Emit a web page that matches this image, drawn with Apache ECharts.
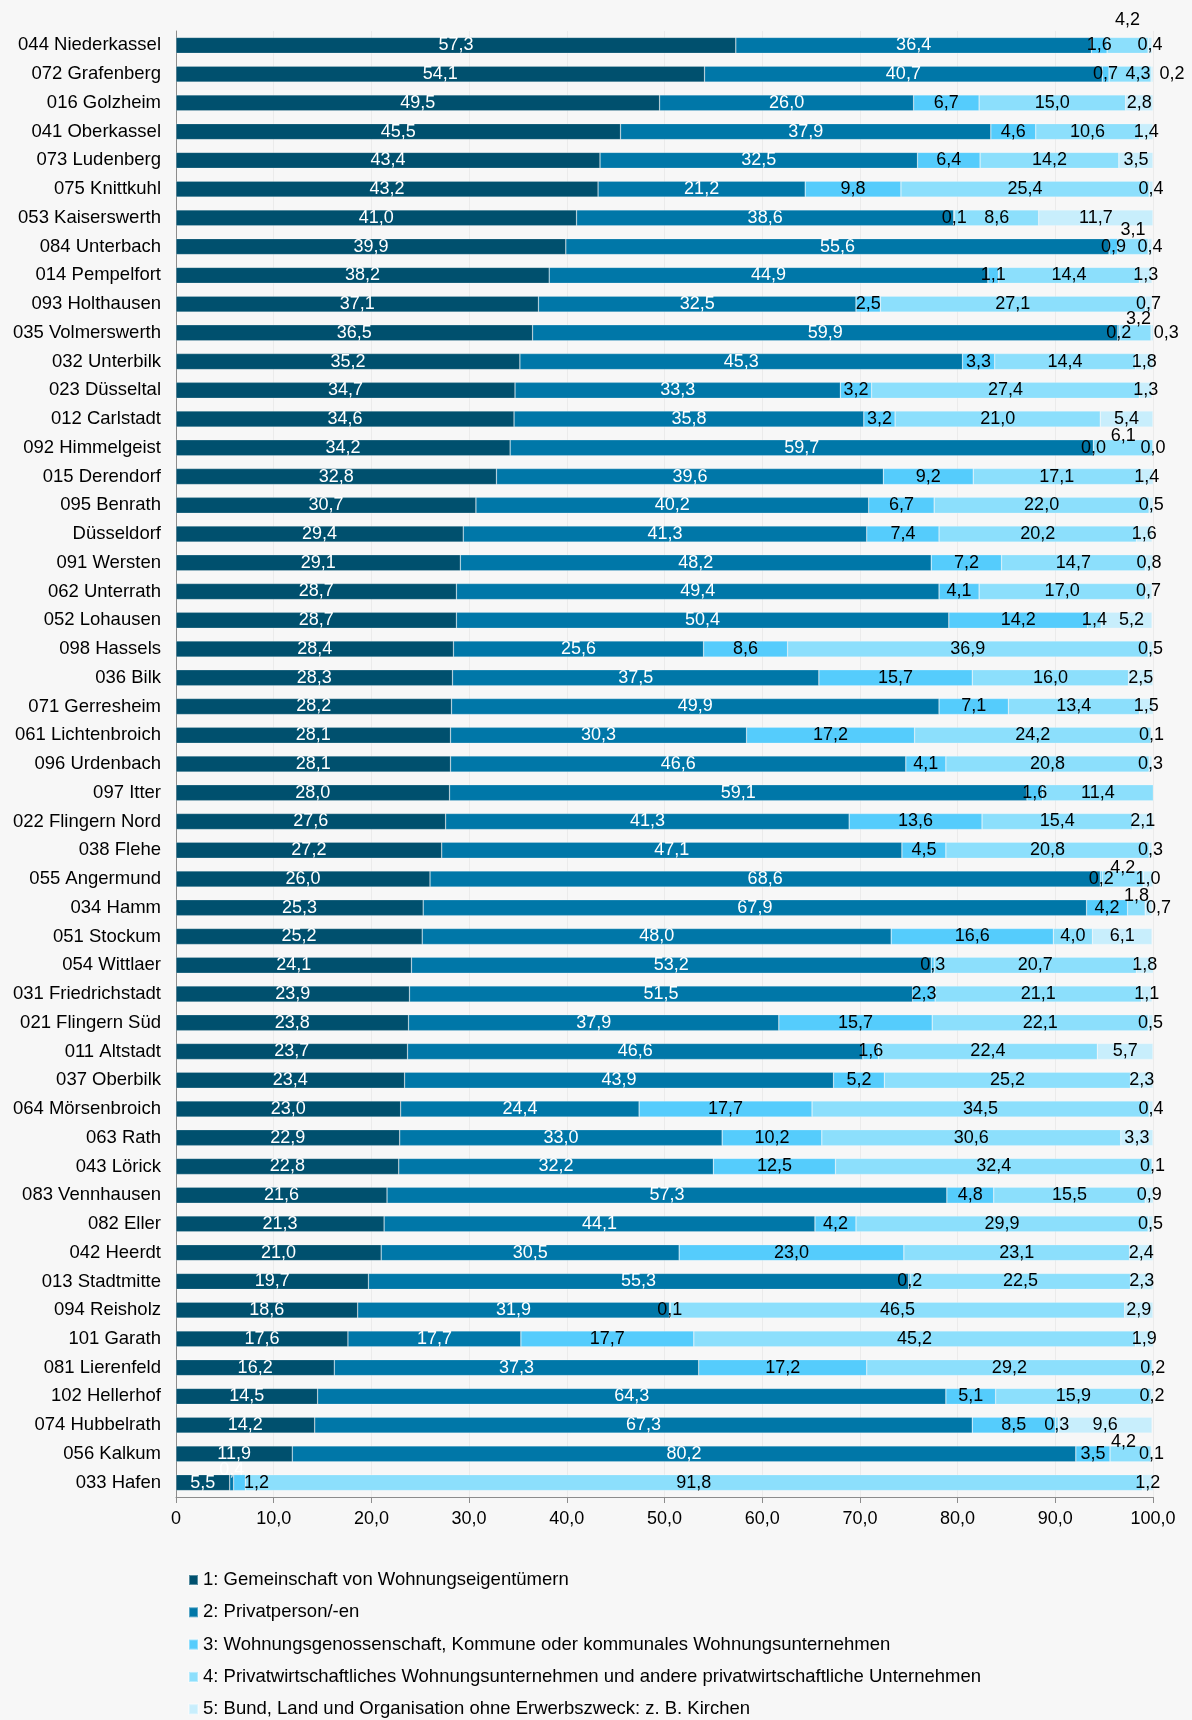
<!DOCTYPE html>
<html>
<head>
<meta charset="utf-8">
<script src="https://cdn.jsdelivr.net/npm/echarts@6/dist/echarts.min.js"></script>
<style>
html,body{margin:0;padding:0;background:#f7f7f7;}
#chart{width:1192px;height:1720px;}
</style>
</head>
<body>
<div id="chart"></div>
<script>
var categories = ['044 Niederkassel','072 Grafenberg','016 Golzheim','041 Oberkassel','073 Ludenberg','075 Knittkuhl','053 Kaiserswerth','084 Unterbach','014 Pempelfort','093 Holthausen','035 Volmerswerth','032 Unterbilk','023 Düsseltal','012 Carlstadt','092 Himmelgeist','015 Derendorf','095 Benrath','Düsseldorf','091 Wersten','062 Unterrath','052 Lohausen','098 Hassels','036 Bilk','071 Gerresheim','061 Lichtenbroich','096 Urdenbach','097 Itter','022 Flingern Nord','038 Flehe','055 Angermund','034 Hamm','051 Stockum','054 Wittlaer','031 Friedrichstadt','021 Flingern Süd','011 Altstadt','037 Oberbilk','064 Mörsenbroich','063 Rath','043 Lörick','083 Vennhausen','082 Eller','042 Heerdt','013 Stadtmitte','094 Reisholz','101 Garath','081 Lierenfeld','102 Hellerhof','074 Hubbelrath','056 Kalkum','033 Hafen'];

var seriesNames = ['1: Gemeinschaft von Wohnungseigentümern','2: Privatperson/-en','3: Wohnungsgenossenschaft, Kommune oder kommunales Wohnungsunternehmen','4: Privatwirtschaftliches Wohnungsunternehmen und andere privatwirtschaftliche Unternehmen','5: Bund, Land und Organisation ohne Erwerbszweck: z. B. Kirchen'];

var s1 = [57.3,54.1,49.5,45.5,43.4,43.2,41.0,39.9,38.2,37.1,36.5,35.2,34.7,34.6,34.2,32.8,30.7,29.4,29.1,28.7,28.7,28.4,28.3,28.2,28.1,28.1,28.0,27.6,27.2,26.0,25.3,25.2,24.1,23.9,23.8,23.7,23.4,23.0,22.9,22.8,21.6,21.3,21.0,19.7,18.6,17.6,16.2,14.5,14.2,11.9,5.5];
var s2 = [36.4,40.7,26.0,37.9,32.5,21.2,38.6,55.6,44.9,32.5,59.9,45.3,33.3,35.8,59.7,39.6,40.2,41.3,48.2,49.4,50.4,25.6,37.5,49.9,30.3,46.6,59.1,41.3,47.1,68.6,67.9,48.0,53.2,51.5,37.9,46.6,43.9,24.4,33.0,32.2,57.3,44.1,30.5,55.3,31.9,17.7,37.3,64.3,67.3,80.2,0.4];
var s3 = [1.6,0.7,6.7,4.6,6.4,9.8,0.1,0.9,1.1,2.5,0.2,3.3,3.2,3.2,0.0,9.2,6.7,7.4,7.2,4.1,14.2,8.6,15.7,7.1,17.2,4.1,1.6,13.6,4.5,0.2,4.2,16.6,0.3,2.3,15.7,1.6,5.2,17.7,10.2,12.5,4.8,4.2,23.0,0.2,0.1,17.7,17.2,5.1,8.5,3.5,1.2];
var s4 = [4.2,4.3,15.0,10.6,14.2,25.4,8.6,3.1,14.4,27.1,3.2,14.4,27.4,21.0,6.1,17.1,22.0,20.2,14.7,17.0,1.4,36.9,16.0,13.4,24.2,20.8,11.4,15.4,20.8,4.2,1.8,4.0,20.7,21.1,22.1,22.4,25.2,34.5,30.6,32.4,15.5,29.9,23.1,22.5,46.5,45.2,29.2,15.9,0.3,4.2,91.8];
var s5 = [0.4,0.2,2.8,1.4,3.5,0.4,11.7,0.4,1.3,0.7,0.3,1.8,1.3,5.4,0.0,1.4,0.5,1.6,0.8,0.7,5.2,0.5,2.5,1.5,0.1,0.3,null,2.1,0.3,1.0,0.7,6.1,1.8,1.1,0.5,5.7,2.3,0.4,3.3,0.1,0.9,0.5,2.4,2.3,2.9,1.9,0.2,0.2,9.6,0.1,1.2];

var xTickLabels = ['0','10,0','20,0','30,0','40,0','50,0','60,0','70,0','80,0','90,0','100,0'];

var colors = ['#00506e','#0077a8','#55ccfc','#8cdffc','#c8eefc'];
var labelColors = ['#ffffff','#ffffff','#000000','#000000','#000000'];

// label offsets to mimic the reference's overlap placement (row,series -> [dx,dy])
var labelShift = {
  '0,3':[0,-25], '1,3':[8,0], '1,4':[20,0], '7,3':[0,-17],
  '10,3':[3,-14], '10,4':[14,0], '14,3':[0,-12], '20,4':[5,0],
  '29,3':[0,-11], '30,3':[0,-12], '30,4':[10,0], '49,3':[-7,-12],
  '50,1':[0,-13], '50,2':[17,0]
};

var FONT = '"Liberation Sans", Arial, sans-serif';
var allSeries = [s1,s2,s3,s4,s5];

function fmt(v){ return v.toFixed(1).replace('.', ','); }

var series = allSeries.map(function(arr, si){
  return {
    name: seriesNames[si],
    type: 'bar',
    stack: 'total',
    barWidth: 16,
    itemStyle: {color: colors[si], borderColor: 'rgba(255,255,255,0.35)', borderWidth: 0.6},
    label: {
      show: true, position: 'inside', color: labelColors[si],
      fontFamily: FONT, fontSize: 18,
      formatter: function(p){ return p.value == null ? '' : fmt(p.value); }
    },
    emphasis: {disabled: true},
    data: arr.map(function(v, ri){
      var key = ri + ',' + si;
      if (labelShift[key]) {
        return {value: v, label: {offset: labelShift[key]}};
      }
      return v;
    })
  };
});

var chart = echarts.init(document.getElementById('chart'), null, {renderer: 'canvas'});
chart.setOption({
  backgroundColor: '#f7f7f7',
  animation: false,
  color: colors,
  grid: {left: 176, right: 39, top: 31, bottom: 223, containLabel: false},
  xAxis: {
    type: 'value', min: 0, max: 100, interval: 10,
    axisLine: {show: true, lineStyle: {color: '#8c8c8c', width: 1}},
    axisTick: {show: true, length: 6, lineStyle: {color: '#8c8c8c'}},
    splitLine: {show: true, lineStyle: {color: '#ebebeb', width: 1}},
    axisLabel: {
      margin: 13, color: '#000', fontFamily: FONT, fontSize: 18,
      formatter: function(v){ return xTickLabels[Math.round(v/10)]; }
    }
  },
  yAxis: {
    type: 'category', data: categories, inverse: true,
    axisLine: {show: true, lineStyle: {color: '#8c8c8c', width: 1}},
    axisTick: {show: false},
    axisLabel: {margin: 15, color: '#000', fontFamily: FONT, fontSize: 18.5}
  },
  legend: {
    orient: 'vertical', left: 188, top: 1570, padding: 0,
    itemWidth: 9, itemHeight: 10, itemGap: 12.3,
    icon: 'rect',
    textStyle: {color: '#000', fontFamily: FONT, fontSize: 18.5, lineHeight: 20},
    data: seriesNames
  },
  series: series
});
</script>
</body>
</html>
